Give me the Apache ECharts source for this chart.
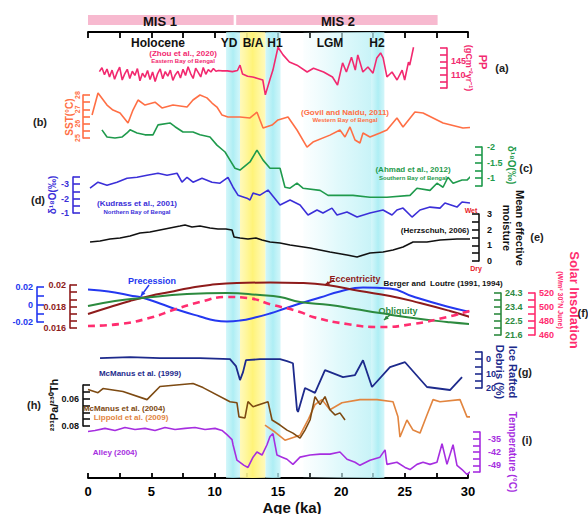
<!DOCTYPE html>
<html>
<head>
<meta charset="utf-8">
<script src="https://cdn.jsdelivr.net/npm/echarts@6/dist/echarts.min.js"></script>
<style>html,body{margin:0;padding:0;background:#fff}#chart{width:588px;height:514px}</style>
</head>
<body>
<div id="chart"></div>
<script>
// ---- Age axis ----
const AGE_MIN = 0, AGE_MAX = 30, AGE_STEP = 2.5;
const AGE_TICKS = [0, 5, 10, 15, 20, 25, 30];

// ---- Climate intervals (ka) ----
const MIS = [[0, 11.5], [11.7, 27.6]];
const COLD_BANDS = [[10.9, 12.0], [14.0, 15.2], [22.4, 23.4]]; // YD, H1, H2
const WARM_BANDS = [[12.0, 14.0]];                              // B/A
const LGM_BAND = [[17.0, 22.4]];

// ---- (a) Primary productivity, Eastern Bay of Bengal ----
const PP_AGE = [0.9,1.1,1.3,1.5,1.7,1.9,2.1,2.3,2.5,2.7,2.9,3.1,3.3,3.5,3.7,3.9,4.1,4.3,4.5,4.7,4.9,5.1,5.3,5.5,5.7,5.9,6.1,6.3,6.5,6.7,6.9,7.1,7.3,7.5,7.7,7.9,8.1,8.3,8.5,8.7,8.9,9.1,9.3,9.5,9.7,9.9,10.1,10.3,10.6,
  11.0,11.4,11.8,12.0,12.2,12.6,13.0,13.4,13.8,14.0,14.4,14.6,15.0,15.4,15.9,16.5,17.3,17.8,18.6,19.3,19.7,20.1,20.4,20.8,21.1,21.3,21.7,22.1,22.5,22.8,23.1,23.3,23.6,24.0,24.4,24.8,25.0,25.3,25.4,25.7];
const PP_VAL = [118,128,110,125,104,122,98,116,130,96,112,124,100,119,108,126,94,114,103,121,97,117,92,113,125,99,118,106,122,95,110,119,101,124,108,131,113,100,127,116,104,129,111,123,117,126,119,121,120,
  120,118,121,135,112,106,104,100,96,57,101,122,182,162,143,135,117,127,117,104,83,141,117,156,122,162,117,130,114,154,167,154,104,117,96,122,96,143,135,182];
const PP_TICKS = [110, 145];

// ---- (b) SST, Western Bay of Bengal ----
const SST_AGE = [0.32,0.79,1.5,1.97,2.53,3.16,3.55,3.95,4.5,5.29,5.84,6.71,7.82,8.29,8.84,9.39,9.79,10.18,10.58,11.05,12.0,12.79,13.34,13.82,14.53,15.0,15.79,16.5,17.29,17.76,19.1,19.89,20.29,20.68,21.08,21.47,21.71,22.26,23.05,23.6,24.39,24.87,25.81,26.45,28.03,29.6,30.95,31.74];
const SST_VAL = [26.6,28.14,27.3,26.95,26.74,26.05,26.95,27.65,27.3,27.5,27.1,27.3,27.16,27.65,28.0,27.8,27.44,27.16,26.6,26.47,26.47,26.4,26.8,25.7,25.9,26.26,26.47,25.56,24.37,24.72,25.2,25.56,25.07,25.77,24.86,24.65,25.35,25.07,25.35,25.56,26.4,25.77,26.81,26.74,26.05,25.7,25.77,26.05];
const SST_TICKS = [25, 26, 27, 28];

// ---- (c) d18O, Southern Bay of Bengal ----
const SBB_AGE = [1.1,1.5,2.13,2.68,3.08,3.32,3.87,4.5,5.13,5.53,6.47,6.87,7.5,8.29,8.84,9.63,10.18,10.82,11.21,11.6,12.0,12.79,13.34,13.82,14.37,15.16,15.55,15.95,16.5,16.97,18.32,18.95,20.92,22.26,23.6,25.42,25.97,27.0,27.55,28.03,28.42,28.82,29.53,29.92,30.32];
const SBB_VAL = [-2.55,-2.32,-2.29,-2.32,-2.45,-2.55,-2.45,-2.39,-2.39,-2.71,-2.77,-2.65,-2.48,-2.48,-2.39,-2.32,-2.06,-1.84,-1.58,-1.32,-1.26,-1.52,-1.9,-1.58,-1.32,-1.32,-0.71,-0.68,-0.84,-0.68,-0.61,-0.45,-0.45,-0.39,-0.39,-0.45,-0.68,-0.61,-0.84,-0.71,-1.03,-0.84,-0.94,-0.94,-1.1];
const SBB_TICKS = [-2, -1.5, -1];

// ---- (d) d18O, Northern Bay of Bengal ----
const NBB_AGE = [0.16,0.79,1.5,2.29,3.08,3.87,4.66,5.53,6.24,7.03,7.42,7.82,8.29,9.0,9.79,10.42,11.05,11.45,11.84,12.55,12.79,13.03,13.58,14.21,15.16,15.95,16.74,17.37,18.08,18.55,19.26,19.66,20.45,21.24,22.26,23.29,24.0,24.39,24.87,25.58,26.21,27.0,27.79,28.18,29.13,29.53,30.16];
const NBB_VAL = [-2.72,-3.14,-2.93,-3.14,-3.41,-3.48,-3.62,-3.76,-3.62,-3.76,-3.14,-3.48,-3.14,-3.41,-3.14,-3.07,-3.48,-2.79,-2.24,-2.03,-1.9,-2.38,-2.24,-2.59,-1.55,-1.9,-1.55,-0.86,-1.21,-1.0,-1.34,-0.86,-1.07,-0.72,-1.0,-1.21,-0.86,-1.21,-1.34,-0.72,-1.21,-1.41,-1.34,-1.69,-1.41,-1.76,-1.69];
const NBB_TICKS = [-3, -2, -1];

// ---- (e) Mean effective moisture ----
const MOI_AGE = [0.16,0.95,1.74,2.53,3.32,4.1,4.89,5.68,6.47,7.26,7.66,8.21,8.84,9.63,10.26,10.89,11.37,11.53,12.0,12.63,13.26,13.74,14.37,15.16,15.95,17.53,19.1,20.45,21.24,22.26,23.29,24.08,24.87,25.66,26.76,27.79,29.13,30.16];
const MOI_VAL = [1.21,1.28,1.4,1.47,1.6,1.79,1.85,1.98,2.11,2.23,2.3,2.17,2.23,2.11,2.04,2.04,1.98,1.53,1.47,1.4,1.47,1.34,1.21,1.15,1.02,0.83,0.57,0.38,0.26,0.51,0.57,0.7,0.89,1.21,1.21,1.34,1.4,1.4];
const MOI_TICKS = [0, 1, 2, 3];

// ---- (f) Orbital parameters ----
const PREC_AGE = [0,0.95,2.13,3.32,4.26,5.68,7.26,8.84,10.03,10.97,12.0,13.18,14.37,15.55,16.74,18.32,19.89,21.71,23.84,25.66,28.34,30.39,31.97];
const PREC_VAL = [0.0171,0.016,0.0137,0.0103,0.008,0.0011,-0.0069,-0.0137,-0.0183,-0.0194,-0.0183,-0.0149,-0.0103,-0.0046,0.0011,0.008,0.0149,0.0194,0.0183,0.0091,-0.0023,-0.0091,-0.0137];
const PREC_TICKS = [-0.02, 0, 0.02];

const ECC_AGE = [0,1.74,3.32,4.89,6.47,8.05,9.63,11.76,14.37,16.74,18.87,21.47,23.84,26.21,28.58,30.95,31.97];
const ECC_VAL = [0.0173,0.01795,0.01851,0.01898,0.01935,0.01972,0.02,0.02019,0.02023,0.02019,0.02,0.01944,0.01898,0.01833,0.01758,0.01674,0.01637];
const ECC_TICKS = [0.016, 0.018, 0.02];

const OBL_AGE = [0,2.13,4.26,7.82,10.97,13.58,15.16,16.74,19.1,21.08,23.05,25.66,28.34,30.16,31.97];
const OBL_VAL = [23.46,23.79,23.98,24.23,24.3,24.17,24.04,23.72,23.53,23.27,23.01,22.69,22.44,22.31,22.24];
const OBL_TICKS = [21.6, 22.5, 23.4, 24.3];

const INS_AGE = [0,2.53,5.13,6.71,8.84,10.97,12.55,14.6,16.74,17.76,20.45,23.05,25.66,28.34,30.39,31.97];
const INS_VAL = [472.9,475.7,485.7,495.7,507.1,514.3,512.9,502.9,492.9,485.7,475.7,471.4,475.7,485.7,495.7,502.9];
const INS_TICKS = [460, 480, 500, 520];

// ---- (g) Ice rafted debris ----
const IRD_AGE = [0.95,3.32,5.68,8.84,11.21,11.68,12.0,12.24,12.47,13.58,15.16,15.71,16.18,16.5,16.58,17.13,17.92,18.71,20.13,21.08,21.71,22.42,23.84,25.03,26.76,28.58,29.53];
const IRD_VAL = [-0.7,-1.4,-0.7,-0.7,0,4.8,14.5,9.0,0.7,0,0,1.4,2.8,35.2,36.6,20,23.4,7.6,12.4,11.0,0.7,19.3,5.5,2.1,19.3,21.4,12.4];
const IRD_TICKS = [0, 10, 20];

// ---- (h) 231Pa/230Th ----
const PA04_AGE = [0,0.79,1.18,2.76,4.66,5.68,8.29,9.08,11.21,11.76,11.92,12.39,12.63,13.03,14.21,14.53,15.16,15.71,16.18,16.74,17.13,17.53,17.92,18.32,18.71,19.1,19.5,19.89,20.29];
const PA04_VAL = [0.0533,0.0556,0.0526,0.0548,0.0607,0.0511,0.0489,0.0519,0.0622,0.063,0.0733,0.0741,0.0622,0.0659,0.0622,0.0756,0.0793,0.083,0.0852,0.0889,0.083,0.0756,0.0585,0.0644,0.0585,0.0681,0.0719,0.0704,0.0756];
const PA09_AGE = [13.97,14.76,15.55,16.74,17.37,17.92,18.47,19.1,20.05,21.47,22.82,24.08,24.47,24.63,25.18,25.66,26.21,26.76,27.24,27.79,29.37,29.92,30.39,31.18];
const PA09_VAL = [0.0793,0.0844,0.0904,0.0867,0.0756,0.0644,0.0607,0.0681,0.063,0.0607,0.0607,0.0622,0.0733,0.0881,0.0756,0.083,0.0852,0.0719,0.0607,0.0622,0.0607,0.0733,0.0733,0.0667];
const PA_TICKS = [0.06, 0.08];

// ---- (i) Greenland temperature ----
const TEMP_AGE = [0,0.55,1.34,2.13,2.92,3.71,4.5,5.29,6.08,6.87,7.66,8.45,9.24,10.03,10.58,10.97,11.37,11.45,11.76,12.0,12.32,12.63,13.03,13.34,13.74,14.13,14.37,14.6,14.92,15.32,15.71,16.18,16.74,17.53,18.32,19.1,19.89,20.45,21.08,21.47,22.26,23.05,23.45,23.6,24.39,25.03,25.42,25.97,26.45,27.0,27.55,27.95,28.34,28.82,29.13,29.53,29.92,30.39];
const TEMP_VAL = [-31.2,-30.7,-29.6,-30.7,-29.1,-30.2,-29.6,-30.7,-29.1,-30.2,-29.6,-29.1,-30.2,-29.6,-30.7,-32.85,-35.5,-38.2,-46.3,-47.4,-49,-50.1,-44.7,-42,-43.6,-38.2,-33.9,-32.3,-43.6,-44.7,-45.8,-48.5,-44.7,-43.6,-43.1,-43.1,-42,-45.8,-47.4,-49,-46.3,-44.7,-40.9,-48.5,-47.4,-50.1,-51.2,-48.5,-47.4,-48.5,-47.4,-37.7,-48.5,-38.2,-49,-51.2,-53.8,-51.2];
const TEMP_TICKS = [-49, -42, -35];

// ---------------------------------------------------------------------------
const FONT = '"Liberation Sans", Arial, sans-serif';
const PLOT_LEFT = 88, PLOT_WIDTH = 380;

function pairs(a, v) { return a.map((x, i) => [x, v[i]]); }
function tickFmt(labels, step) {
  return function (v) {
    for (const l of labels) if (Math.abs(v - l) < step * 0.05) return String(l);
    return '';
  };
}

const grids = [], xAxes = [], yAxes = [], series = [];

function addGrid(top, bottom) {
  grids.push({ left: PLOT_LEFT, width: PLOT_WIDTH, top: top, height: bottom - top,
               containLabel: false, outerBoundsMode: 'none' });
  return grids.length - 1;
}

// Each record gets its own strip with its own vertical scale; the curve may run past the tick range.
function addRecord(o) {
  const gi = addGrid(o.top, o.bottom);
  const xi = xAxes.length, yi = yAxes.length;
  xAxes.push({ gridIndex: gi, type: 'value', min: AGE_MIN, max: AGE_MAX, show: false });
  yAxes.push({
    gridIndex: gi, type: 'value', position: o.pos, offset: o.offset,
    min: o.min, max: o.max, interval: o.step, inverse: !!o.inverse,
    axisLine: { show: true, onZero: false, lineStyle: { color: o.color, width: 1.6 } },
    axisTick: { show: true, inside: true, length: 7, lineStyle: { color: o.color, width: 1.6 } },
    splitLine: { show: false },
    axisLabel: Object.assign({ color: o.color, fontSize: 9, fontWeight: 'bold', fontFamily: FONT,
                 margin: o.margin || 4, formatter: tickFmt(o.ticks, o.step),
                 showMinLabel: true, showMaxLabel: true }, o.labelExtra || {})
  });
  for (const s of o.series) {
    series.push({
      type: 'line', xAxisIndex: xi, yAxisIndex: yi, clip: false, symbol: 'none',
      smooth: !!s.smooth, data: pairs(s.age, s.val), z: 3,
      lineStyle: { color: s.color || o.color, width: s.width || 1.6, type: s.dash || 'solid' }
    });
  }
}

// Background strip: age axes and climate-interval shading
(function () {
  const gi = addGrid(32, 478);
  xAxes.push({
    gridIndex: gi, type: 'value', position: 'bottom', min: AGE_MIN, max: AGE_MAX, interval: AGE_STEP,
    axisLine: { lineStyle: { color: '#000', width: 1.8 } },
    axisTick: { inside: true, length: 5, lineStyle: { color: '#000', width: 1.8 } },
    splitLine: { show: false },
    axisLabel: { color: '#000', fontSize: 13, fontWeight: 'bold', fontFamily: FONT, margin: 7,
                 formatter: tickFmt(AGE_TICKS, AGE_STEP) }
  });
  xAxes.push({
    gridIndex: gi, type: 'value', position: 'top', min: AGE_MIN, max: AGE_MAX, interval: AGE_STEP,
    axisLine: { lineStyle: { color: '#000', width: 1.8 } },
    axisTick: { inside: true, length: 6, lineStyle: { color: '#000', width: 1.8 } },
    splitLine: { show: false }, axisLabel: { show: false }
  });
  yAxes.push({ gridIndex: gi, type: 'value', min: 0, max: 1, show: false });
  const grad = (stops) => new echarts.graphic.LinearGradient(0, 0, 1, 0,
    stops.map((c, i) => ({ offset: i / (stops.length - 1), color: c })));
  const band = (list, color) => list.map(b => [{ xAxis: b[0], itemStyle: { color: color } }, { xAxis: b[1] }]);
  series.push({
    type: 'line', xAxisIndex: 0, yAxisIndex: 0, data: [], symbol: 'none', z: 0, silent: true,
    markArea: { silent: true, data: []
      .concat(band(LGM_BAND, grad(['rgba(215,247,250,0.1)', 'rgba(205,245,249,0.6)', 'rgba(190,241,246,0.85)'])))
      .concat(band(COLD_BANDS, grad(['rgba(190,242,247,0.7)', 'rgba(165,236,243,0.9)', 'rgba(190,242,247,0.7)'])))
      .concat(band(WARM_BANDS, grad(['rgba(255,248,170,0.8)', 'rgba(255,243,120,1)', 'rgba(255,248,170,0.8)']))) }
  });
})();

// MIS strip
(function () {
  const gi = addGrid(15, 25);
  const xi = xAxes.length, yi = yAxes.length;
  xAxes.push({ gridIndex: gi, type: 'value', min: AGE_MIN, max: AGE_MAX, show: false });
  yAxes.push({ gridIndex: gi, type: 'value', min: 0, max: 1, show: false });
  series.push({
    type: 'line', xAxisIndex: xi, yAxisIndex: yi, data: [], symbol: 'none', silent: true,
    markArea: { silent: true, itemStyle: { color: '#f7b9cf' },
                data: MIS.map(m => [{ xAxis: m[0] }, { xAxis: m[1] }]) }
  });
})();

addRecord({ top: 48, bottom: 88, pos: 'right', offset: -21, min: 75, max: 180, step: 17.5,
  ticks: PP_TICKS, color: '#f2296f', series: [{ age: PP_AGE, val: PP_VAL, width: 1.6 }] });
addRecord({ top: 95, bottom: 138, pos: 'left', offset: 5, min: 25, max: 28, step: 0.5,
  ticks: SST_TICKS, color: '#ff6f45', margin: 2, labelExtra: { rotate: 90, fontSize: 7 },
  series: [{ age: SST_AGE, val: SST_VAL, width: 1.6 }] });
addRecord({ top: 147, bottom: 186, pos: 'right', offset: 14, min: -2, max: -0.75, step: 0.25, inverse: true,
  ticks: SBB_TICKS, color: '#1f9a4c', margin: 5, series: [{ age: SBB_AGE, val: SBB_VAL, width: 1.6 }] });
addRecord({ top: 177, bottom: 213, pos: 'left', offset: 15, min: -3.5, max: -1, step: 0.5, inverse: true,
  ticks: NBB_TICKS, color: '#3b2fd8', series: [{ age: NBB_AGE, val: NBB_VAL, width: 1.6 }] });
addRecord({ top: 214, bottom: 261, pos: 'right', offset: 11, min: 0, max: 3, step: 0.5,
  ticks: MOI_TICKS, color: '#111', margin: 8, series: [{ age: MOI_AGE, val: MOI_VAL, width: 1.6 }] });
addRecord({ top: 287, bottom: 322, pos: 'left', offset: 51, min: -0.02, max: 0.02, step: 0.01,
  ticks: PREC_TICKS, color: '#2438f0', series: [{ age: PREC_AGE, val: PREC_VAL, width: 2, smooth: true }] });
addRecord({ top: 285, bottom: 328, pos: 'left', offset: 18, min: 0.016, max: 0.02, step: 0.004 / 6,
  ticks: ECC_TICKS, color: '#8e1b1b', series: [{ age: ECC_AGE, val: ECC_VAL, width: 2, smooth: true }] });
addRecord({ top: 293, bottom: 335, pos: 'right', offset: 33, min: 21.6, max: 24.3, step: 0.45,
  ticks: OBL_TICKS, color: '#2c8a3e', series: [{ age: OBL_AGE, val: OBL_VAL, width: 2, smooth: true }] });
addRecord({ top: 293, bottom: 335, pos: 'right', offset: 67, min: 460, max: 520, step: 10,
  ticks: INS_TICKS, color: '#ff2d6f', series: [{ age: INS_AGE, val: INS_VAL, width: 2.6, smooth: true, dash: [7, 5] }] });
addRecord({ top: 352, bottom: 388, pos: 'right', offset: 14, min: -5, max: 20, step: 5, inverse: true,
  ticks: IRD_TICKS, color: '#1d2a8c', series: [{ age: IRD_AGE, val: IRD_VAL, width: 1.8 }] });
addRecord({ top: 385, bottom: 426, pos: 'left', offset: 5, min: 0.05, max: 0.08, step: 0.005, inverse: true,
  ticks: PA_TICKS, color: '#111', series: [
    { age: PA09_AGE, val: PA09_VAL, color: '#e2853f', width: 1.6 },
    { age: PA04_AGE, val: PA04_VAL, color: '#7d4a12', width: 1.6 }] });
addRecord({ top: 432, bottom: 472, pos: 'right', offset: 12, min: -52.5, max: -31.5, step: 3.5,
  ticks: TEMP_TICKS, color: '#a62ee0', margin: 8, series: [{ age: TEMP_AGE, val: TEMP_VAL, width: 1.6 }] });

// ---- Text annotations ----
function txt(x, y, text, color, size, opts) {
  opts = opts || {};
  return { type: 'text', x: x, y: y, rotation: opts.rot || 0, z: 10, silent: true,
    style: { text: text, fill: color, font: (opts.weight || 'bold') + ' ' + size + 'px ' + FONT,
             align: opts.align || 'center', verticalAlign: 'middle',
             textAlign: opts.align || 'center', textVerticalAlign: 'middle' } };
}
function arrow(x1, y1, x2, y2, color) {
  const a = Math.atan2(y2 - y1, x2 - x1), h = 5;
  return [
    { type: 'line', z: 10, silent: true, shape: { x1: x1, y1: y1, x2: x2, y2: y2 }, style: { stroke: color, lineWidth: 1.5 } },
    { type: 'polygon', z: 10, silent: true, shape: { points: [[x2, y2],
      [x2 - h * Math.cos(a - 0.45), y2 - h * Math.sin(a - 0.45)],
      [x2 - h * Math.cos(a + 0.45), y2 - h * Math.sin(a + 0.45)]] }, style: { fill: color } }
  ];
}
const UP = Math.PI / 2, DOWN = -Math.PI / 2;
const texts = [
  txt(160, 21, 'MIS 1', '#111', 13), txt(338, 21, 'MIS 2', '#111', 13),
  txt(158, 43, 'Holocene', '#111', 12), txt(229, 43, 'YD', '#111', 12), txt(253, 43, 'B/A', '#111', 12),
  txt(275, 43, 'H1', '#111', 12), txt(330, 43, 'LGM', '#111', 12), txt(377, 43, 'H2', '#111', 12),
  txt(183, 53, '(Zhou et al., 2020)', '#f2296f', 8), txt(183, 61, 'Eastern Bay of Bengal', '#f2296f', 6),
  txt(483, 62, 'PP', '#f2296f', 11, { rot: DOWN }), txt(469, 68, '(gCm\u207B\u00B2yr\u207B\u00B9)', '#f2296f', 9, { rot: DOWN }),
  txt(502, 68, '(a)', '#222', 11),
  txt(69, 117, 'SST(\u00B0C)', '#ff6f45', 10, { rot: UP }), txt(40, 122, '(b)', '#222', 11),
  txt(345, 112, '(Govil and Naidu, 2011)', '#ff6f45', 8), txt(345, 120, 'Western Bay of Bengal', '#ff6f45', 6),
  txt(413, 169, '(Ahmad et al., 2012)', '#1f9a4c', 8), txt(413, 178, 'Southern Bay of Bengal', '#1f9a4c', 6),
  txt(511, 165, '\u03B4\u00B9\u2078O(\u2030)', '#1f9a4c', 10, { rot: DOWN }), txt(526, 168, '(c)', '#222', 11),
  txt(52, 195, '\u03B4\u00B9\u2078O(\u2030)', '#3b2fd8', 10, { rot: UP }), txt(38, 200, '(d)', '#222', 11),
  txt(137, 203, '(Kudrass et al., 2001)', '#3b2fd8', 8), txt(137, 212, 'Northern Bay of Bengal', '#3b2fd8', 6),
  txt(435, 230, '(Herzschuh, 2006)', '#111', 8),
  txt(471, 210, 'Wet', '#e8202a', 7), txt(476, 268, 'Dry', '#e8202a', 7),
  txt(520, 228, 'Mean effective', '#111', 11, { rot: DOWN }), txt(507, 228, 'moisture', '#111', 11, { rot: DOWN }),
  txt(537, 237, '(e)', '#222', 11),
  txt(152, 281, 'Precession', '#2438f0', 9), txt(355, 279, 'Eccentricity', '#8e1b1b', 9),
  txt(443, 283, 'Berger and  Loutre (1991, 1994)', '#111', 8), txt(398, 311, 'Obliquity', '#2c8a3e', 9),
  txt(574, 300, 'Solar Insolation', '#ff2d6f', 13, { rot: DOWN }), txt(560, 300, '(W/m\u00B2 30\u00B0N June)', '#ff2d6f', 7, { rot: DOWN }),
  txt(583, 313, '(f)', '#222', 11),
  txt(140, 373, 'McManus et al. (1999)', '#1d2a8c', 8),
  txt(513, 372, 'Ice Rafted', '#1d2a8c', 11, { rot: DOWN }), txt(500, 372, 'Debris (%)', '#1d2a8c', 11, { rot: DOWN }),
  txt(525, 372, '(g)', '#222', 11),
  txt(54, 405, '\u00B2\u00B3\u00B9Pa/\u00B2\u00B3\u2070Th', '#111', 11, { rot: UP }), txt(34, 405, '(h)', '#222', 11),
  txt(124, 408, 'McManus et al. (2004)', '#7d4a12', 8), txt(131, 417, 'Lippold et al. (2009)', '#e2853f', 8),
  txt(115, 452, 'Alley (2004)', '#a62ee0', 8),
  txt(512, 452, 'Temperature (\u00B0C)', '#a62ee0', 10, { rot: DOWN }), txt(527, 440, '(i)', '#222', 11),
  txt(292, 507, 'Age (ka)', '#111', 15)
].concat(arrow(149, 285, 141, 296, '#2438f0'))
 .concat(arrow(334, 280, 325, 285, '#8e1b1b'))
 .concat(arrow(391, 314, 384, 320, '#2c8a3e'));

const chart = echarts.init(document.getElementById('chart'), null, { renderer: 'svg', width: 588, height: 514 });
chart.setOption({
  animation: false,
  backgroundColor: '#fff',
  grid: grids, xAxis: xAxes, yAxis: yAxes, series: series,
  graphic: { elements: texts }
});
</script>
</body>
</html>
